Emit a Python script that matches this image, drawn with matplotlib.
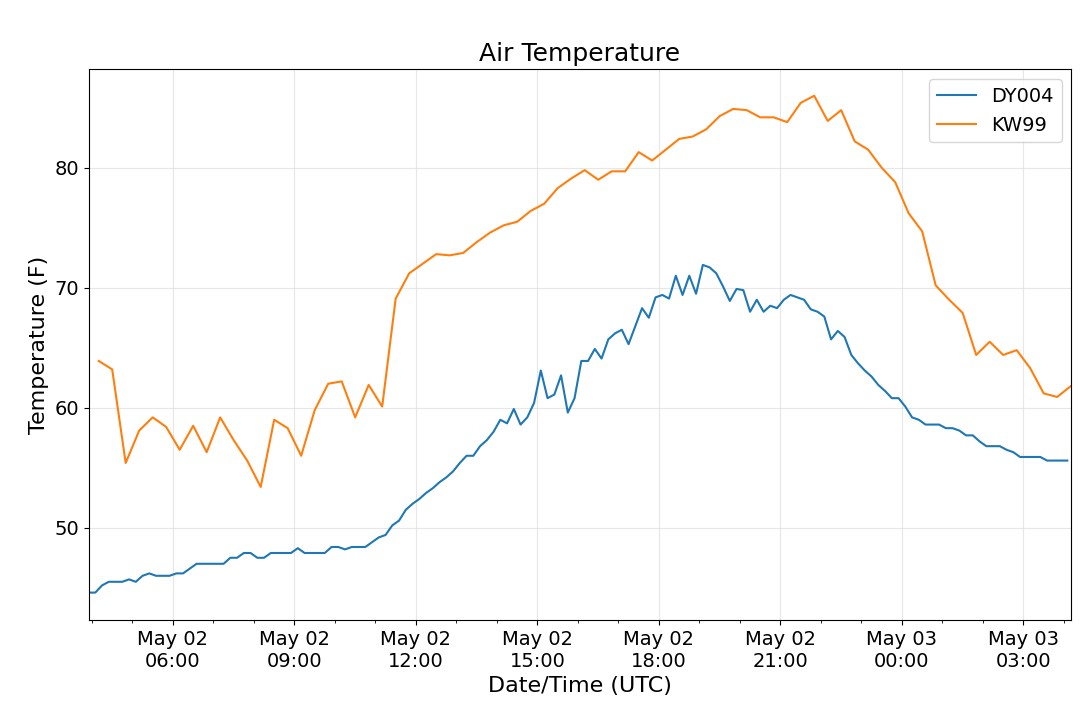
import numpy as np
import pandas as pd
import matplotlib
matplotlib.use("Agg")
import matplotlib.pyplot as plt
import matplotlib.dates as mdates

# DY004: 10-minute samples starting 2019-05-02 03:55
dy004_start = "2019-05-02 03:55"
dy004_temp = [
    44.6, 44.6, 45.2, 45.5, 45.5, 45.5, 45.7, 45.5, 46.0, 46.2, 46.0, 46.0,
    46.0, 46.2, 46.2, 46.6, 47.0, 47.0, 47.0, 47.0, 47.0, 47.5, 47.5, 47.9,
    47.9, 47.5, 47.5, 47.9, 47.9, 47.9, 47.9, 48.3, 47.9, 47.9, 47.9, 47.9,
    48.4, 48.4, 48.2, 48.4, 48.4, 48.4, 48.8, 49.2, 49.4, 50.2, 50.6, 51.5,
    52.0, 52.4, 52.9, 53.3, 53.8, 54.2, 54.7, 55.4, 56.0, 56.0, 56.8, 57.3,
    58.0, 59.0, 58.7, 59.9, 58.6, 59.2, 60.4, 63.1, 60.8, 61.1, 62.7, 59.6,
    60.8, 63.9, 63.9, 64.9, 64.1, 65.7, 66.2, 66.5, 65.3, 66.8, 68.3, 67.5,
    69.2, 69.4, 69.1, 71.0, 69.4, 71.0, 69.5, 71.9, 71.7, 71.2, 70.1, 68.9,
    69.9, 69.8, 68.0, 69.0, 68.0, 68.5, 68.3, 69.0, 69.4, 69.2, 69.0, 68.2,
    68.0, 67.6, 65.7, 66.4, 65.9, 64.4, 63.7, 63.1, 62.6, 61.9, 61.4, 60.8,
    60.8, 60.1, 59.2, 59.0, 58.6, 58.6, 58.6, 58.3, 58.3, 58.1, 57.7, 57.7,
    57.2, 56.8, 56.8, 56.8, 56.5, 56.3, 55.9, 55.9, 55.9, 55.9, 55.6, 55.6,
    55.6, 55.6,
]

# KW99: 20-minute samples starting 2019-05-02 04:10
kw99_start = "2019-05-02 04:10"
kw99_temp = [
    63.9, 63.2, 55.4, 58.1, 59.2, 58.4, 56.5, 58.5, 56.3, 59.2, 57.3, 55.6,
    53.4, 59.0, 58.3, 56.0, 59.8, 62.0, 62.2, 59.2, 61.9, 60.1, 69.1, 71.2,
    72.0, 72.8, 72.7, 72.9, 73.8, 74.6, 75.2, 75.5, 76.4, 77.0, 78.3, 79.1,
    79.8, 79.0, 79.7, 79.7, 81.3, 80.6, 81.5, 82.4, 82.6, 83.2, 84.3, 84.9,
    84.8, 84.2, 84.2, 83.8, 85.4, 86.0, 83.9, 84.8, 82.2, 81.5, 80.0, 78.8,
    76.2, 74.7, 70.2, 69.0, 67.9, 64.4, 65.5, 64.4, 64.8, 63.3, 61.2, 60.9,
    61.8,
]

dy_t = pd.date_range(dy004_start, periods=len(dy004_temp), freq="10min")
kw_t = pd.date_range(kw99_start, periods=len(kw99_temp), freq="20min")

fig = plt.figure(figsize=(10.8, 7.22), dpi=100)
ax = fig.add_axes([0.082, 0.141, 0.91, 0.763])
ax.plot(dy_t, dy004_temp, color="#1f77b4", label="DY004", lw=1.5)
ax.plot(kw_t, kw99_temp, color="#ff7f0e", label="KW99", lw=1.5)

ax.set_xlim(pd.Timestamp("2019-05-02 03:55"), pd.Timestamp("2019-05-03 04:11"))
ax.set_ylim(42.3, 88.2)
ax.set_yticks([50, 60, 70, 80])
ax.xaxis.set_major_locator(mdates.HourLocator(byhour=[0, 3, 6, 9, 12, 15, 18, 21]))
ax.xaxis.set_major_formatter(mdates.DateFormatter("%b %d\n%H:%M"))
ax.xaxis.set_minor_locator(mdates.HourLocator())
ax.grid(True, color="#dddddd", alpha=0.7)
ax.tick_params(labelsize=14)
ax.set_title("Air Temperature", fontsize=18)
ax.set_xlabel("Date/Time (UTC)", fontsize=16)
ax.set_ylabel("Temperature (F)", fontsize=16)
ax.legend(fontsize=14, loc="upper right")
fig.savefig("out.png")
